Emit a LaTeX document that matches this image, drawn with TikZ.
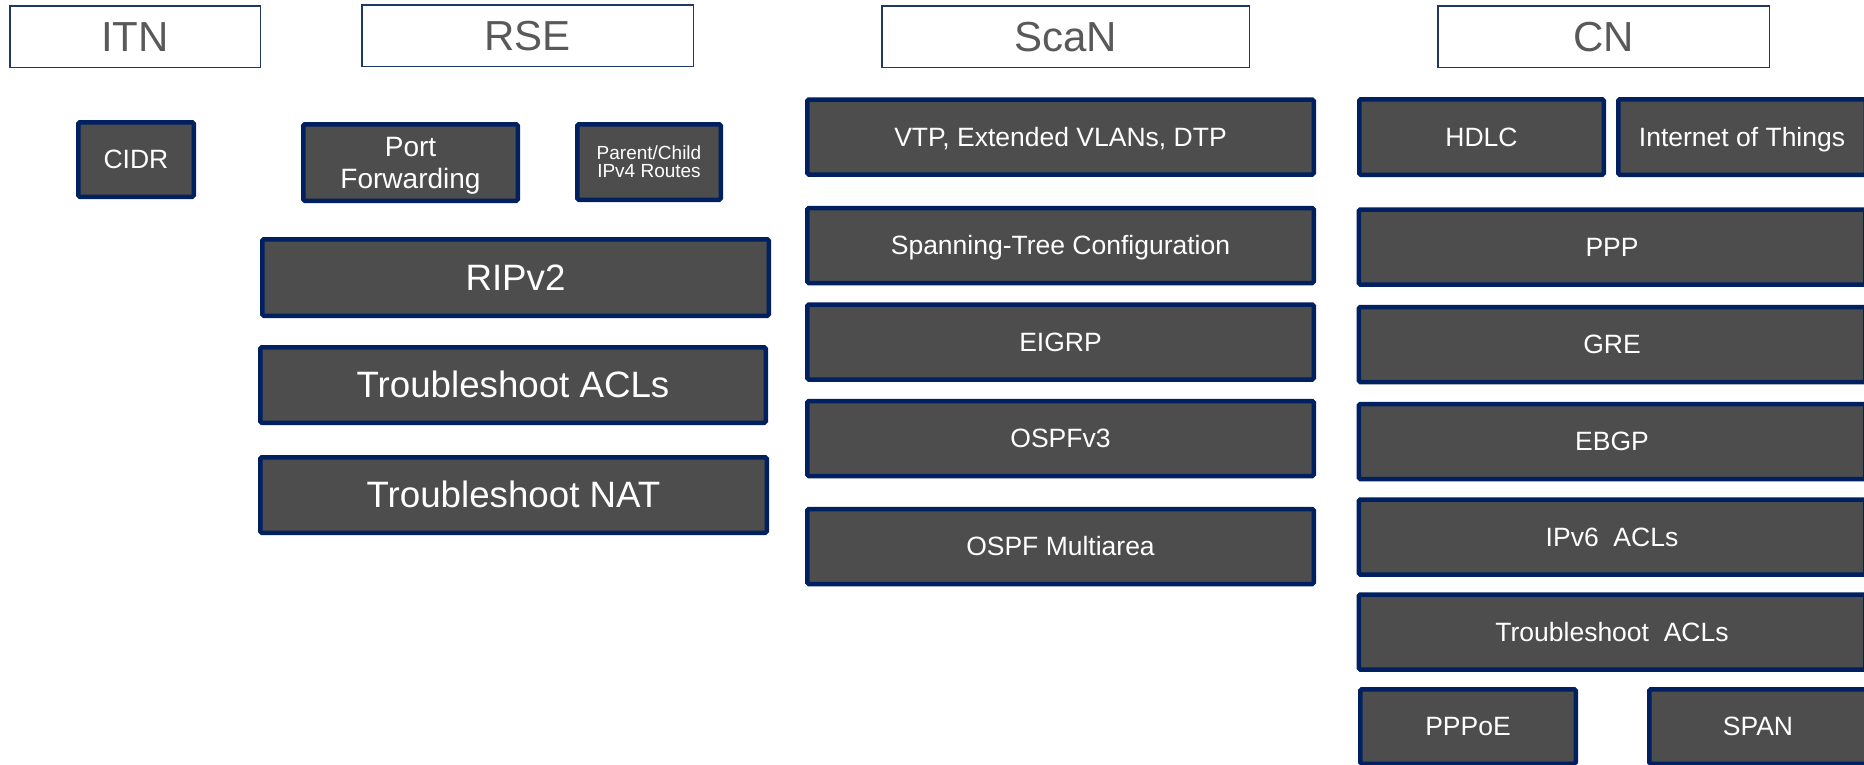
\documentclass[tikz,border=0pt]{standalone}
\usepackage{fontspec}
\setmainfont{Liberation Sans}

\definecolor{navy}{HTML}{002060}
\definecolor{boxgray}{HTML}{4D4D4D}
\definecolor{hdrgray}{HTML}{595959}
\definecolor{hdrline}{HTML}{1F3864}

\tikzset{
  header/.style={draw=hdrline, line width=1.5pt, fill=white, text=hdrgray,
    inner sep=0pt, font=\fontsize{42}{42}\selectfont,
    text height=29.4pt, text depth=0pt},
  topic/.style={draw=navy, line width=4.5pt, fill=boxgray, text=white,
    rounded corners=1.5pt, inner sep=0pt, align=center,
    font=\fontsize{26.5}{30}\selectfont, text height=18.5pt, text depth=0pt},
  bigtopic/.style={topic, font=\fontsize{36.7}{40}\selectfont, text height=25.7pt},
  twolines/.style={text height=, text depth=#1},
  wide/.style={minimum width=506.5pt, minimum height=75pt},
}

\begin{document}
\begin{tikzpicture}[x=1pt, y=-1pt]
\useasboundingbox (0,0) rectangle (1864,764);
\clip (0,0) rectangle (1864,764);

\def\scanx{1060.5}
\def\cnx{1612}

% course headers
\node[header, minimum width=250.5pt, minimum height=61.5pt] (itn) at (135,36.5) {ITN};
\node[header, minimum width=331.5pt, minimum height=61.5pt] (rse) at (527.5,35.5) {RSE};
\node[header, minimum width=367.5pt, minimum height=61.5pt] (scan) at (1065.5,36.5) {ScaN};
\node[header, minimum width=331.5pt, minimum height=61.5pt] (cn) at (1603.5,36.5) {CN};

% ITN
\node[topic, minimum width=115.5pt, minimum height=74.5pt] (cidr) at (136,159.5) {CIDR};

% RSE
\node[topic, twolines=0pt, minimum width=214.5pt, minimum height=76.5pt,
  font=\fontsize{28}{32}\selectfont] (portfwd) at (410.5,162.5) {Port\\Forwarding};
\node[topic, twolines=, minimum width=143.5pt, minimum height=75.5pt,
  font=\fontsize{19}{18}\selectfont] (routes) at (649,162) {Parent/Child\\IPv4 Routes};
\node[bigtopic, minimum width=506.5pt, minimum height=76.5pt] (ripv2) at (515.5,277.5) {RIPv2};
\node[bigtopic, minimum width=505.5pt, minimum height=75.5pt] (rseacl) at (513,385) {Troubleshoot ACLs};
\node[bigtopic, minimum width=506.5pt, minimum height=75.5pt] (rsenat) at (513.5,495) {Troubleshoot NAT};

% ScaN
\node[topic, wide] (vtp) at (\scanx,137) {VTP, Extended VLANs, DTP};
\node[topic, wide] (stp) at (\scanx,245.5) {Spanning-Tree Configuration};
\node[topic, wide] (eigrp) at (\scanx,342) {EIGRP};
\node[topic, wide] (ospfv3) at (\scanx,438.5) {OSPFv3};
\node[topic, wide] (multiarea) at (\scanx,546.5) {OSPF Multiarea};

% CN
\node[topic, minimum width=244.5pt, minimum height=75.5pt] (hdlc) at (1481.5,137) {HDLC};
\node[topic, minimum width=247.5pt, minimum height=75.5pt] (iot) at (1742,137) {Internet of Things};
\node[topic, wide] (ppp) at (\cnx,247) {PPP};
\node[topic, wide] (gre) at (\cnx,344.5) {GRE};
\node[topic, wide] (ebgp) at (\cnx,441.5) {EBGP};
\node[topic, wide] (ipv6acl) at (\cnx,537) {IPv6~~ACLs};
\node[topic, wide] (cnacl) at (\cnx,632) {Troubleshoot~~ACLs};
\node[topic, minimum width=215.5pt, minimum height=74.5pt] (pppoe) at (1468,726.5) {PPPoE};
\node[topic, minimum width=217.5pt, minimum height=74.5pt] (span) at (1758,726.5) {SPAN};

\end{tikzpicture}
\end{document}
